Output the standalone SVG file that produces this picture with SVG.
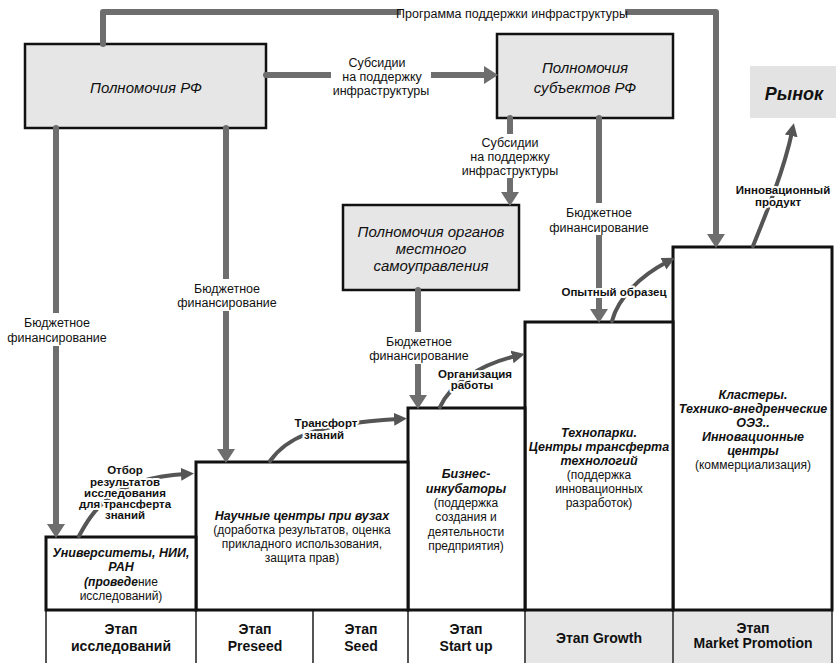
<svg xmlns="http://www.w3.org/2000/svg" width="839" height="663" viewBox="0 0 839 663">
<style>
text{font-family:"Liberation Sans",Arial,sans-serif;fill:#111;text-anchor:middle}
.t{font-size:15px;font-style:italic}
.lb{font-size:12.5px}
.sb{font-size:11.5px;font-weight:bold;stroke:#fff;stroke-width:4;stroke-linejoin:round;paint-order:stroke}
.bi{font-size:12.5px;font-weight:bold;font-style:italic}
.n{font-size:12px}
.st{font-size:14px;font-weight:bold}
.gbox{fill:#e6e6e6;stroke:#111;stroke-width:2.5}
.box{fill:#fff;stroke:#111;stroke-width:3}
.cell{fill:#fff;stroke:#555;stroke-width:2}
.cellg{fill:#e6e6e6;stroke:#555;stroke-width:2}
.thick{fill:none;stroke:#6e6e6e;stroke-width:6;stroke-linecap:round;stroke-linejoin:round;marker-end:url(#ah)}
.thin{fill:none;stroke:#555;stroke-width:4;stroke-linecap:round;marker-end:url(#ah2)}
.bg{fill:#fff}
</style>
<defs>
<marker id="ah" viewBox="0 0 14 18" markerWidth="14" markerHeight="18" refX="3" refY="9" orient="auto" markerUnits="userSpaceOnUse">
<path d="M0,0 L14,9 L0,18 z" fill="#6e6e6e"/>
</marker>
<marker id="ah2" viewBox="0 0 13 13" markerWidth="13" markerHeight="13" refX="4" refY="6.5" orient="auto" markerUnits="userSpaceOnUse">
<path d="M0,0 L13,6.5 L0,13 z" fill="#555"/>
</marker>
</defs>

<!-- bottom stage row -->
<g id="stages">
<rect class="cell" x="46" y="610" width="150" height="56"/>
<rect class="cell" x="196" y="610" width="117" height="56"/>
<rect class="cell" x="313" y="610" width="95" height="56"/>
<rect class="cell" x="408" y="610" width="117" height="56"/>
<rect class="cellg" x="525" y="610" width="148" height="56"/>
<rect class="cellg" x="673" y="610" width="159" height="56"/>
<text class="st" x="121" y="634">Этап</text>
<text class="st" x="121" y="651">исследований</text>
<text class="st" x="255" y="634">Этап</text>
<text class="st" x="255" y="651">Preseed</text>
<text class="st" x="361" y="634">Этап</text>
<text class="st" x="361" y="651">Seed</text>
<text class="st" x="466" y="634">Этап</text>
<text class="st" x="466" y="651">Start up</text>
<text class="st" x="599" y="643">Этап Growth</text>
<text class="st" x="753" y="633">Этап</text>
<text class="st" x="753" y="648">Market Promotion</text>
</g>

<g id="market-promotion">
<rect class="box" x="673" y="247" width="159" height="363"/>
<text class="bi" x="753" y="399">Кластеры.</text>
<text class="bi" x="753" y="413">Технико-внедренческие</text>
<text class="bi" x="753" y="427">ОЭЗ..</text>
<text class="bi" x="753" y="441">Инновационные</text>
<text class="bi" x="753" y="455">центры</text>
<text class="n" x="753" y="469">(коммерциализация)</text>
</g>

<g id="technoparks">
<rect class="box" x="525" y="322" width="148" height="288"/>
<text class="bi" x="599" y="437">Технопарки.</text>
<text class="bi" x="599" y="451">Центры трансферта</text>
<text class="bi" x="599" y="465">технологий</text>
<text class="n" x="599" y="479">(поддержка</text>
<text class="n" x="599" y="493">инновационных</text>
<text class="n" x="599" y="507">разработок)</text>
</g>

<g id="incubators">
<rect class="box" x="408" y="408" width="117" height="202"/>
<text class="bi" x="466" y="478">Бизнес-</text>
<text class="bi" x="466" y="493">инкубаторы</text>
<text class="n" x="466" y="507">(поддержка</text>
<text class="n" x="466" y="521">создания и</text>
<text class="n" x="466" y="536">деятельности</text>
<text class="n" x="466" y="550">предприятия)</text>
</g>

<g id="science-centers">
<rect class="box" x="196" y="462" width="212" height="148"/>
<text class="bi" x="302" y="520">Научные центры при вузах</text>
<text class="n" x="302" y="534">(доработка результатов, оценка</text>
<text class="n" x="302" y="548">прикладного использования,</text>
<text class="n" x="302" y="562">защита прав)</text>
</g>

<g id="universities">
<rect class="box" x="46" y="537" width="150" height="73"/>
<text class="bi" x="121" y="557">Университеты, НИИ,</text>
<text class="bi" x="121" y="571">РАН</text>
<text class="n" x="121" y="586"><tspan font-weight="bold" font-style="italic">(проведе</tspan>ние</text>
<text class="n" x="121" y="600">исследований)</text>
</g>

<g id="rf">
<rect class="gbox" x="25" y="44" width="241" height="84"/>
<text class="t" x="146" y="93">Полномочия РФ</text>
</g>

<g id="subjects">
<rect class="gbox" x="497" y="34" width="176" height="84"/>
<text class="t" x="585" y="73">Полномочия</text>
<text class="t" x="585" y="93">субъектов РФ</text>
</g>

<g id="local">
<rect class="gbox" x="343" y="205" width="176" height="85"/>
<text class="t" x="431" y="237">Полномочия органов</text>
<text class="t" x="431" y="254">местного</text>
<text class="t" x="431" y="271">самоуправления</text>
</g>

<g id="market">
<rect x="750" y="66" width="86" height="52" fill="#e3e3e3"/>
<text x="794" y="100" font-size="18" font-weight="bold" font-style="italic">Рынок</text>
</g>

<g id="connectors">
<path class="thick" d="M103,44 V12 H716 V237"/>
<path class="thick" d="M266,75 H487"/>
<path class="thick" d="M56,128 V527"/>
<path class="thick" d="M226,128 V452"/>
<path class="thick" d="M510,118 V195"/>
<path class="thick" d="M599,118 V312"/>
<path class="thick" d="M418,290 V398"/>
<path class="thin" d="M79,536 C92,512 112,478 185,474"/>
<path class="thin" d="M270,461 C285,440 310,424 398,419"/>
<path class="thin" d="M440,407 C450,385 478,365 516,356"/>
<path class="thin" d="M612,321 C618,298 640,276 667,262"/>
<path class="thin" d="M753,246 C766,214 784,170 792,132"/>

<rect class="bg" x="401" y="5" width="224" height="16"/>
<text class="lb" x="512" y="18">Программа поддержки инфраструктуры</text>

<rect class="bg" x="331" y="54" width="100" height="45"/>
<text class="lb" x="377" y="67">Субсидии</text>
<text class="lb" x="382" y="81">на поддержку</text>
<text class="lb" x="381" y="95">инфраструктуры</text>

<rect class="bg" x="461" y="134" width="98" height="44"/>
<text class="lb" x="510" y="147">Субсидии</text>
<text class="lb" x="510" y="161">на поддержку</text>
<text class="lb" x="510" y="175">инфраструктуры</text>

<rect class="bg" x="550" y="203" width="98" height="32"/>
<text class="lb" x="599" y="217">Бюджетное</text>
<text class="lb" x="599" y="232">финансирование</text>

<rect class="bg" x="8" y="313" width="98" height="33"/>
<text class="lb" x="57" y="327">Бюджетное</text>
<text class="lb" x="57" y="342">финансирование</text>

<rect class="bg" x="178" y="279" width="98" height="32"/>
<text class="lb" x="227" y="293">Бюджетное</text>
<text class="lb" x="227" y="307">финансирование</text>

<rect class="bg" x="370" y="332" width="98" height="32"/>
<text class="lb" x="419" y="346">Бюджетное</text>
<text class="lb" x="419" y="360">финансирование</text>

<text class="sb" x="125" y="474">Отбор</text>
<text class="sb" x="125" y="486">результатов</text>
<text class="sb" x="125" y="497">исследования</text>
<text class="sb" x="125" y="508">для трансферта</text>
<text class="sb" x="125" y="519">знаний</text>

<text class="sb" x="326" y="427">Трансфорт</text>
<text class="sb" x="324" y="439">знаний</text>

<text class="sb" x="475" y="378">Организация</text>
<text class="sb" x="472" y="389">работы</text>

<text class="sb" x="614" y="296">Опытный образец</text>

<text class="sb" x="783" y="194">Инновационный</text>
<text class="sb" x="778" y="206">продукт</text>
</g>
</svg>
